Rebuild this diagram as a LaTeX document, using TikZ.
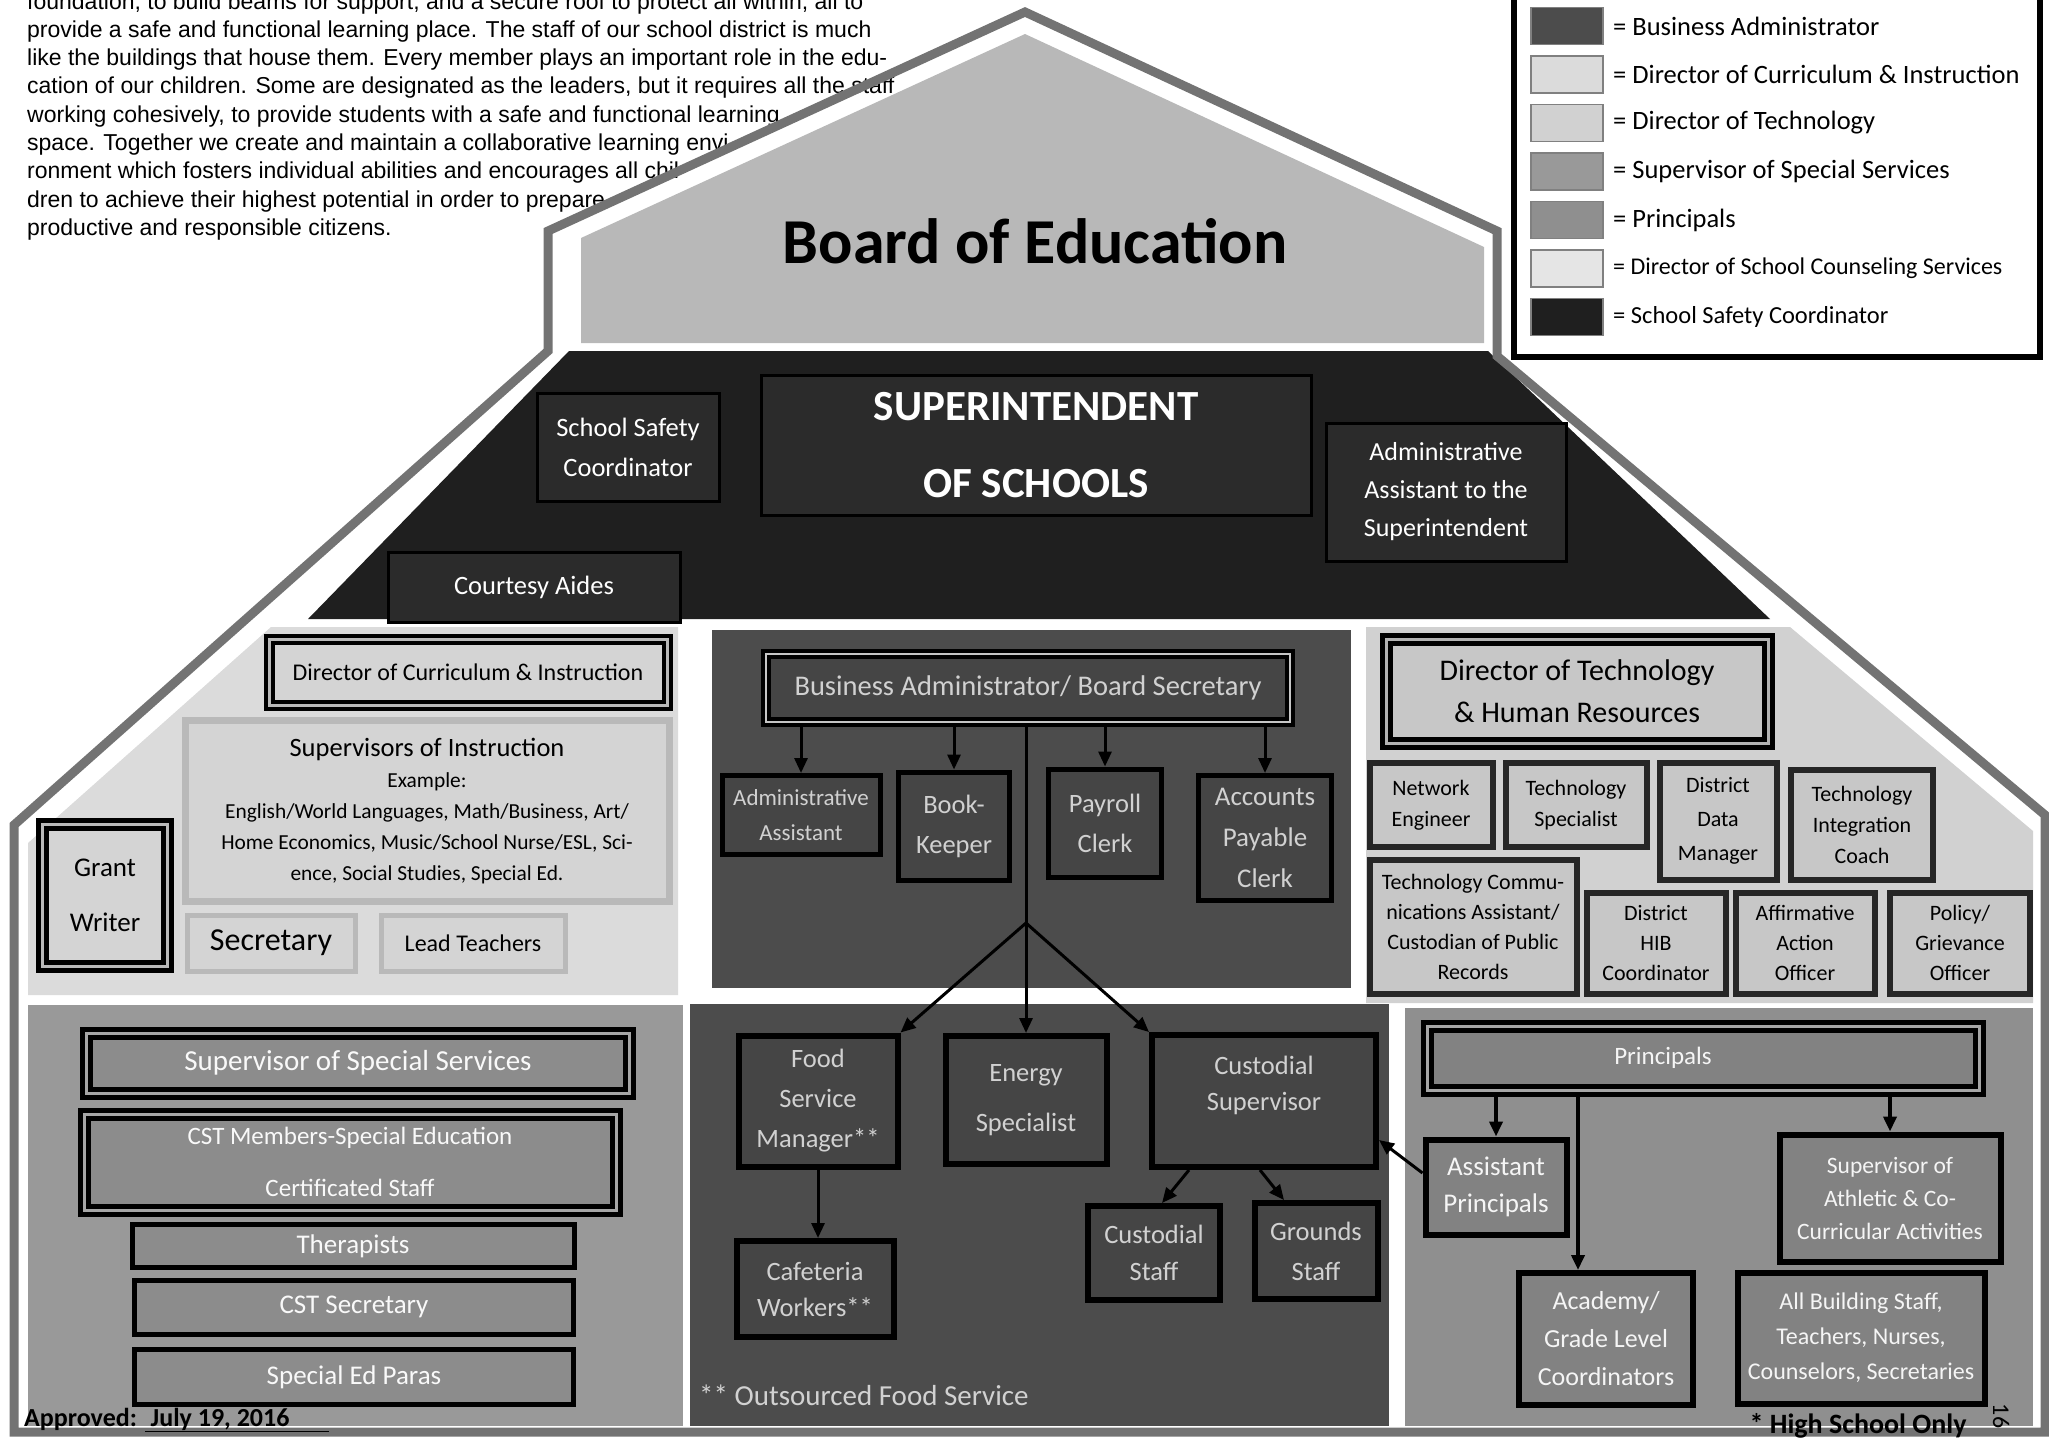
\documentclass[tikz,border=0pt]{standalone}
\usepackage{fontspec}
\setmainfont{Carlito}
\newfontfamily\parafont{Liberation Sans}
\usepackage{tikz}
\usetikzlibrary{arrows.meta}

\definecolor{wallgray}{gray}{0.45}
\definecolor{gablegray}{gray}{0.72}
\definecolor{supgray}{gray}{0.12}
\definecolor{supfill}{gray}{0.17}
\definecolor{currgray}{gray}{0.86}
\definecolor{currfill}{gray}{0.83}
\definecolor{bagray}{gray}{0.30}
\definecolor{bafill}{gray}{0.27}
\definecolor{specgray}{gray}{0.60}
\definecolor{specfill}{gray}{0.55}
\definecolor{techgray}{gray}{0.82}
\definecolor{techfill}{gray}{0.78}
\definecolor{princgray}{gray}{0.56}
\definecolor{princfill}{gray}{0.51}
\definecolor{counselgray}{gray}{0.90}
\definecolor{inkgray}{gray}{0.82}

\newcommand{\setfs}[2]{\fontsize{#1}{#2}\selectfont}

\begin{document}
\begin{tikzpicture}[x=1pt,y=-1pt]
	\tikzset{every node/.style={inner sep=0pt,align=center}}
	\tikzset{arr/.style={draw=black,line width=3pt,-{Triangle[length=15pt,width=13pt]}}}
	\tikzset{supbox/.style={draw=black,line width=3pt,fill=supfill,text=white,font=\setfs{26.5}{39}}}
	\tikzset{currbox/.style={draw=gray!55,line width=5pt,fill=currfill,text=black,font=\setfs{24}{31}}}
	\tikzset{specbox/.style={draw=black,line width=5pt,fill=specfill,text=gray!5,font=\setfs{27}{52}}}
	\tikzset{babox/.style={draw=black,line width=5pt,fill=bafill,text=inkgray,font=\setfs{26.5}{40}}}
	\tikzset{techbox/.style={draw=black!85,line width=6pt,fill=techfill,text=black,font=\setfs{22}{31}}}
	\tikzset{princbox/.style={draw=black,line width=6pt,fill=princfill,text=gray!8,font=\setfs{26}{36}}}
	\tikzset{swatch/.style={draw=gray,line width=1.5pt,minimum width=72pt,minimum height=37pt}}
	\tikzset{legtext/.style={anchor=west}}
	\useasboundingbox (0,0) rectangle (2049,1449);

	% house: gable, roof band and the rooms
	\fill[gablegray] (581,343) -- (581,238) -- (1025,34) -- (1484,247) -- (1484,343) -- cycle;
	\fill[supgray] (569,351) -- (1488,351) -- (1770,619) -- (308,619) -- cycle;
	\fill[currgray] (271,627) -- (678,627) -- (678,995) -- (28,995) -- (28,843) -- cycle;
	\fill[specgray] (28,1005) rectangle (683,1426);
	\fill[bagray] (712,630) rectangle (1351,988);
	\fill[bagray] (690,1004) rectangle (1389,1426);
	\fill[techgray] (1366,627) -- (1790,627) -- (2033,831) -- (2033,1003) -- (1366,1003) -- cycle;
	\fill[princgray] (1405,1008) rectangle (2033,1426);

	% text block
	\foreach \txt [count=\i from 0] in {{foundation, to build beams for support, and a secure roof to protect all within, all to},
		{provide a safe and functional learning place.  The staff of our school district is much},
		{like the buildings that house them.  Every member plays an important role in the edu-},
		{cation of our children.  Some are designated as the leaders, but it requires all the staff},
		{working cohesively, to provide students with a safe and functional learning},
		{space.  Together we   create and maintain a collaborative learning  envi-},
		{ronment which fosters individual abilities and  encourages  all chil-},
		{dren to achieve their highest potential in order to prepare},
		{productive and responsible citizens.}}
		\node[anchor=base west,font=\parafont\setfs{23}{28}] (para\i) at (27,9+28.3*\i) {\txt};

	\draw[wallgray,line width=9pt] (14,1432) -- (14,825) -- (548,351) -- (548,231) -- (1025,12) -- (1497,231) -- (1497,356) -- (2045,815) -- (2045,1432) -- cycle;

	\node[font=\setfs{64}{70}\bfseries] (boe) at (1035,241) {Board of Education};

	% superintendent band
	\node[supbox,minimum width=182pt,minimum height=108pt,font=\setfs{26.5}{40}] (ssc) at (628,447) {School Safety\\Coordinator};
	\node[supbox,minimum width=550pt,minimum height=140pt,font=\setfs{43}{77}\bfseries] (supt) at (1036,445) {SUPERINTENDENT\\OF SCHOOLS};
	\node[supbox,minimum width=240pt,minimum height=138pt,font=\setfs{26}{38}] (aas) at (1446,492) {Administrative\\Assistant to the\\Superintendent};
	\node[supbox,minimum width=292pt,minimum height=70pt] (aides) at (534,587) {Courtesy Aides};

	% curriculum
	\node[currbox,draw=black,line width=4pt,double=gray!55,double distance=3pt,minimum width=398pt,minimum height=66pt] (dci) at (468,672) {Director of Curriculum \& Instruction};
	\node[currbox,line width=7pt,minimum width=484pt,minimum height=181pt,font=\setfs{21.4}{31}] (soi) at (427,811) {{\setfs{26.5}{31}Supervisors of Instruction}\\Example:\\English/World Languages, Math/Business, Art/\\Home Economics, Music/School Nurse/ESL, Sci-\\ence, Social Studies, Special Ed.};
	\node[currbox,draw=black,line width=5pt,double=gray!55,double distance=3pt,minimum width=125pt,minimum height=142pt,font=\setfs{27}{55}] (grant) at (105,895) {Grant\\Writer};
	\node[currbox,minimum width=168pt,minimum height=56pt,font=\setfs{32}{34}] (secr) at (271,943) {Secretary};
	\node[currbox,minimum width=184pt,minimum height=56pt,font=\setfs{24}{30}] (lead) at (473,943) {Lead Teachers};

	% special services
	\node[specbox,double=gray!70,double distance=3pt,minimum width=543pt,minimum height=60pt,font=\setfs{29}{30}] (sss) at (358,1063) {Supervisor of Special Services};
	\node[specbox,double=gray!70,double distance=3pt,minimum width=532pt,minimum height=96pt,font=\setfs{25}{52}] (cst) at (350,1162) {CST Members-Special Education\\Certificated Staff};
	\node[specbox,minimum width=442pt,minimum height=43pt] (ther) at (353,1246) {Therapists};
	\node[specbox,minimum width=439pt,minimum height=54pt] (cstsec) at (354,1307) {CST Secretary};
	\node[specbox,minimum width=439pt,minimum height=55pt] (paras) at (354,1377) {Special Ed Paras};
	\node[anchor=west,font=\setfs{26}{30}\bfseries] (appr) at (24,1420) {Approved: \underline{\ July 19, 2016\hspace{40pt}}};

	% business office
	\node[babox,line width=4pt,double=gray!45,double distance=2pt,minimum width=524pt,minimum height=68pt,font=\setfs{28.5}{30}] (ba) at (1028,688) {Business Administrator/ Board Secretary};
	\node[babox,minimum width=158pt,minimum height=79pt,font=\setfs{23}{35}] (adm) at (801,815) {Administrative\\Assistant};
	\node[babox,minimum width=111pt,minimum height=108pt] (book) at (954,826) {Book-\\Keeper};
	\node[babox,minimum width=113pt,minimum height=108pt] (payroll) at (1105,823) {Payroll\\Clerk};
	\node[babox,minimum width=133pt,minimum height=125pt,font=\setfs{27}{41}] (ap) at (1265,838) {Accounts\\Payable\\Clerk};
	\foreach \b in {adm,book,payroll,ap}
		\draw[arr] (ba.south -| \b.north) -- (\b.north);

	% buildings and grounds
	\node[babox,line width=6pt,minimum width=159pt,minimum height=131pt] (food) at (818,1101) {Food\\Service\\Manager**};
	\node[babox,line width=6pt,minimum width=161pt,minimum height=128pt,font=\setfs{26.5}{50}] (energy) at (1026,1100) {Energy\\Specialist};
	\node[babox,line width=6pt,minimum width=224pt,minimum height=132pt,font=\setfs{26.5}{36}] (custsup) at (1264,1101) {Custodial\\Supervisor\\ \mbox{}};
	\node[babox,line width=6pt,minimum width=157pt,minimum height=96pt,font=\setfs{26.5}{36}] (cafe) at (815,1289) {Cafeteria\\Workers**};
	\node[babox,line width=6pt,minimum width=132pt,minimum height=94pt,font=\setfs{26.5}{37}] (cstaff) at (1154,1253) {Custodial\\Staff};
	\node[babox,line width=6pt,minimum width=123pt,minimum height=96pt,font=\setfs{26.5}{40}] (grounds) at (1316,1251) {Grounds\\Staff};
	\node[anchor=west,text=inkgray,font=\setfs{29}{34}] (outsrc) at (699,1395) {** Outsourced Food Service};
	\coordinate (fork) at (1026,923);
	\draw[line width=3pt] (ba.south -| fork) -- (fork);
	\draw[arr] (fork) -- (energy.north);
	\draw[arr] (fork) -- (food.north east);
	\draw[arr] (fork) -- (custsup.north west);
	\draw[arr] (food.south) -- (food.south |- cafe.north);
	\draw[arr] ([xshift=40pt]custsup.south west) -- ([xshift=8pt]cstaff.north);
	\draw[arr] ([xshift=-4pt]custsup.south) -- ([xshift=-32pt]grounds.north);

	% technology and HR
	\node[techbox,draw=black,line width=5pt,double=gray!60,double distance=3pt,minimum width=382pt,minimum height=104pt,font=\setfs{30}{42}] (dth) at (1577,691) {Director of Technology\\\& Human Resources};
	\node[techbox,minimum width=123pt,minimum height=84pt] (net) at (1431,805) {Network\\Engineer};
	\node[techbox,minimum width=141pt,minimum height=84pt] (tspec) at (1576,805) {Technology\\Specialist};
	\node[techbox,minimum width=117pt,minimum height=117pt,font=\setfs{22}{34}] (ddm) at (1718,821) {District\\Data\\Manager};
	\node[techbox,minimum width=142pt,minimum height=110pt] (tic) at (1862,825) {Technology\\Integration\\Coach};
	\node[techbox,minimum width=207pt,minimum height=134pt,font=\setfs{22}{30}] (tca) at (1473,927) {Technology Commu-\\nications Assistant/\\Custodian of Public\\Records};
	\node[techbox,minimum width=139pt,minimum height=101pt,font=\setfs{22}{30}] (hib) at (1656,943) {District\\HIB\\Coordinator};
	\node[techbox,minimum width=139pt,minimum height=101pt,font=\setfs{22}{30}] (aao) at (1805,943) {Affirmative\\Action\\Officer};
	\node[techbox,minimum width=140pt,minimum height=101pt,font=\setfs{22}{30}] (pgo) at (1960,943) {Policy/\\Grievance\\Officer};

	% principals
	\node[princbox,line width=5pt,double=gray!70,double distance=3pt,minimum width=552pt,minimum height=64pt,font=\setfs{25}{30}] (princ) at (1703,1058) {Principals\hspace{80pt}};
	\node[princbox,minimum width=141pt,minimum height=95pt,font=\setfs{27}{37}] (asst) at (1496,1187) {Assistant\\Principals};
	\node[princbox,minimum width=221pt,minimum height=127pt,font=\setfs{23.5}{33}] (athl) at (1890,1198) {Supervisor of\\Athletic \& Co-\\Curricular Activities};
	\node[princbox,minimum width=174pt,minimum height=132pt,font=\setfs{26}{38}] (acad) at (1606,1339) {Academy/\\Grade Level\\Coordinators};
	\node[princbox,minimum width=247pt,minimum height=131pt,font=\setfs{24}{35}] (abs) at (1861,1338) {All Building Staff,\\Teachers, Nurses,\\Counselors, Secretaries};
	\coordinate (acadin) at ([xshift=-28pt]acad.north);
	\draw[arr,line width=4pt] (princ.south -| asst.north) -- (asst.north);
	\draw[arr,line width=4pt] (princ.south -| athl.north) -- (athl.north);
	\draw[arr,line width=4pt] (princ.south -| acadin) -- (acadin);
	\draw[arr] ([yshift=14pt]asst.west) -- ([yshift=-39pt]custsup.east);
	\node[font=\setfs{28}{30}\bfseries] (hso) at (1858,1426) {* High School Only};
	\node[rotate=-90,font=\setfs{24}{28}] (pagenum) at (2001,1416) {16};

	% legend
	\node[draw=black,line width=6pt,minimum width=526pt,minimum height=370pt] (legend) at (1777,172) {};
	\foreach \swc/\lbl/\fsz [count=\i from 0] in {bagray/Business Administrator/26.5,currgray/Director of Curriculum \& Instruction/26.5,techgray/Director of Technology/26.5,specgray/Supervisor of Special Services/26.5,princgray/Principals/26.5,counselgray/Director of School Counseling Services/24,supgray/School Safety Coordinator/24.5}
	{
		\node[swatch,fill=\swc] (sw\i) at (1567,26+48.5*\i) {};
		\node[legtext,font=\setfs{\fsz}{30}] (lg\i) at (1613,26+48.5*\i) {= \lbl};
	}
\end{tikzpicture}
\end{document}
